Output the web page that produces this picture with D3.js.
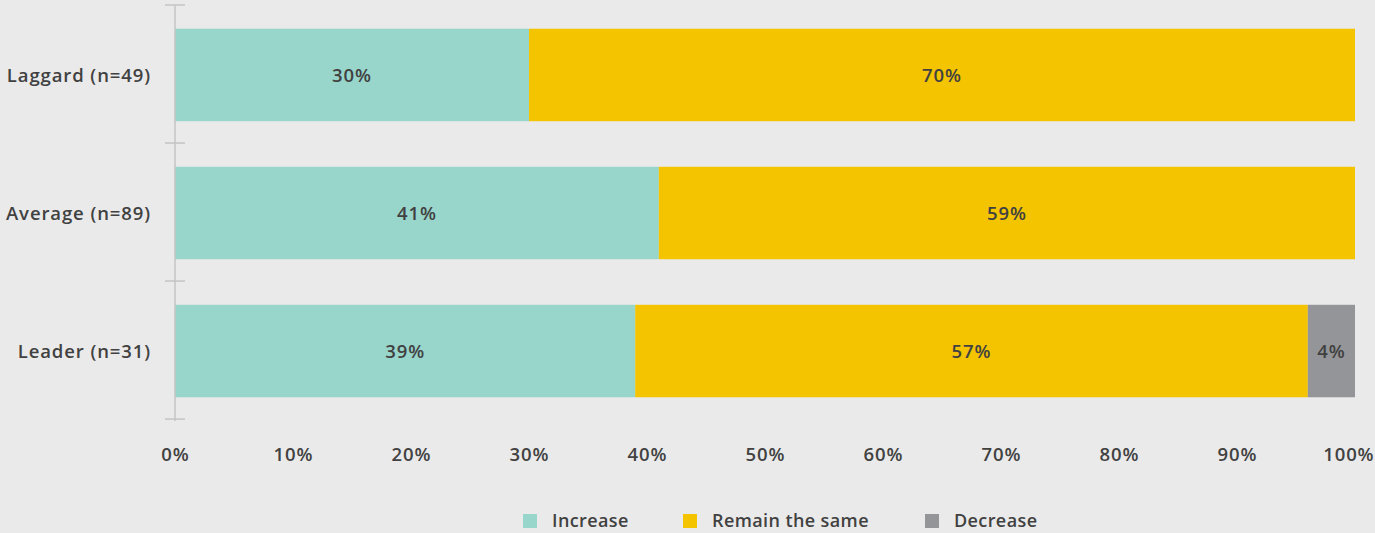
<!DOCTYPE html>
<html>
<head>
<meta charset="utf-8">
<script src="https://cdn.jsdelivr.net/npm/d3@7"></script>
<style>
  html, body { margin: 0; padding: 0; background: #eaeaea; }
  svg { display: block; }
  text { font-family: "Open Sans", "Noto Sans", sans-serif; fill: #414141; }
</style>
</head>
<body>
<svg id="chart" width="1375" height="533"></svg>
<script>
// Groups, from top to bottom
const categories = ["Laggard (n=49)", "Average (n=89)", "Leader (n=31)"];
// Share of respondents per answer, in percent
const increase = [30, 41, 39];
const remainSame = [70, 59, 57];
const decrease = [0, 0, 4];
const seriesNames = ["Increase", "Remain the same", "Decrease"];
const tickValues = [0, 10, 20, 30, 40, 50, 60, 70, 80, 90, 100];

const colors = ["#98d5cb", "#f4c400", "#949598"];

const svg = d3.select("#chart");
const plotLeft = 175, plotRight = 1355, plotTop = 5, plotBottom = 421;
const labelSize = 18.5, labelSpacing = 0.9;

const x = d3.scaleLinear().domain([0, 100]).range([plotLeft, plotRight]);
const y = d3.scaleBand().domain(categories).range([plotTop, plotBottom]).paddingInner(0.33).paddingOuter(0.172);

const rows = categories.map((c, i) => ({ cat: c, Increase: increase[i], "Remain the same": remainSame[i], Decrease: decrease[i] }));
const stacked = d3.stack().keys(seriesNames)(rows);

// Stacked bars
const layers = svg.append("g").selectAll("g").data(stacked).join("g")
  .attr("fill", (d, i) => colors[i]);

layers.selectAll("rect").data(d => d).join("rect")
  .attr("x", d => x(d[0]))
  .attr("y", d => y(d.data.cat))
  .attr("width", d => x(d[1]) - x(d[0]))
  .attr("height", y.bandwidth());

// Value labels
svg.append("g").selectAll("g").data(stacked).join("g")
  .selectAll("text").data(d => d.filter(s => s[1] - s[0] > 0)).join("text")
  .attr("x", d => (x(d[0]) + x(d[1])) / 2)
  .attr("y", d => y(d.data.cat) + y.bandwidth() / 2)
  .attr("dy", "0.4em")
  .attr("text-anchor", "middle")
  .attr("font-size", labelSize)
  .attr("font-weight", 600)
  .attr("letter-spacing", labelSpacing)
  .text(d => Math.round(d[1] - d[0]) + "%");

// Vertical category axis with ticks at band boundaries
const axisG = svg.append("g");
axisG.append("line")
  .attr("x1", plotLeft).attr("x2", plotLeft)
  .attr("y1", plotTop).attr("y2", plotBottom)
  .attr("stroke", "#c4c4c4").attr("stroke-width", 1.5);
const step = y.step();
const bounds = d3.range(categories.length + 1).map(i => plotTop + i * step);
axisG.selectAll("line.tick").data(bounds).join("line")
  .attr("class", "tick")
  .attr("x1", plotLeft - 10).attr("x2", plotLeft + 10)
  .attr("y1", d => d).attr("y2", d => d)
  .attr("stroke", "#c4c4c4").attr("stroke-width", 1.5);

axisG.selectAll("text").data(categories).join("text")
  .attr("x", 151)
  .attr("y", d => y(d) + y.bandwidth() / 2)
  .attr("dy", "0.4em")
  .attr("text-anchor", "end")
  .attr("font-size", labelSize)
  .attr("font-weight", 600)
  .attr("letter-spacing", labelSpacing)
  .text(d => d);

// Horizontal percent axis labels
const xAxis = d3.axisBottom(x).tickValues(tickValues).tickSize(0).tickFormat(d => d + "%");
const xg = svg.append("g").attr("transform", `translate(0, 445)`).call(xAxis);
xg.select(".domain").remove();
xg.selectAll("text")
  .attr("font-size", labelSize)
  .attr("font-weight", 600)
  .attr("letter-spacing", labelSpacing)
  .attr("fill", "#414141")
  .style("font-family", "'Open Sans', sans-serif");
// keep the last label inside the canvas
xg.selectAll(".tick").filter(d => d === 100).select("text")
  .attr("text-anchor", "end").attr("x", 19);

// Legend
const legendX = [523, 683, 925];
const legend = svg.append("g").selectAll("g").data(seriesNames).join("g")
  .attr("transform", (d, i) => `translate(${legendX[i]}, 514)`);
legend.append("rect").attr("width", 14).attr("height", 14).attr("fill", (d, i) => colors[i]);
legend.append("text")
  .attr("x", 29).attr("y", 7).attr("dy", "0.36em")
  .attr("font-size", 18)
  .attr("font-weight", 600)
  .attr("letter-spacing", 0.4)
  .text(d => d);
</script>
</body>
</html>
